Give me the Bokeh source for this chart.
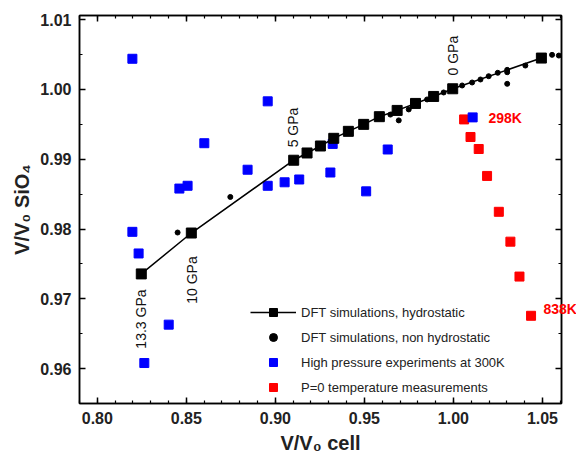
import math
from bokeh.plotting import figure
from bokeh.models import (Legend, LegendItem, LinearAxis, Label, CustomJSTickFormatter,
                          SingleIntervalTicker, PrintfTickFormatter, Range1d)
from bokeh.core.properties import value
from bokeh.embed import file_html
from bokeh.resources import INLINE

# DFT simulations, hydrostatic (squares joined by line)
hyd_x = [0.8247, 0.8528, 0.9103, 0.9178, 0.9253, 0.9328, 0.9410, 0.9496,
         0.9584, 0.9684, 0.9787, 0.9889, 0.9996, 1.0494]
hyd_y = [0.97357, 0.97943, 0.98986, 0.9909, 0.9919, 0.9930, 0.9940, 0.9950,
         0.9961, 0.9970, 0.9980, 0.9990, 1.0001, 1.0045]

# DFT simulations, non hydrostatic (dots)
nh_x = [0.8451, 0.8747, 0.9094, 0.9646, 0.9693, 0.9749, 0.9852, 0.9945,
        1.0049, 1.0105, 1.0152, 1.0198, 1.0249, 1.0302, 1.0302, 1.0302,
        1.0404, 1.0554, 1.0592]
nh_y = [0.9795, 0.9846, 0.9899, 0.9964, 0.99557, 0.99714, 0.99857, 0.99957,
        1.00057, 1.0010, 1.00143, 1.0019, 1.00239, 1.00281, 1.00247, 1.00081,
        1.00343, 1.00496, 1.00486]

# High pressure experiments at 300K (blue)
hp_x = [0.8197, 0.8197, 0.8232, 0.8264, 0.8401, 0.8461, 0.8507, 0.8601,
        0.8844, 0.8957, 0.8957, 0.9052, 0.9134, 0.9309, 0.9322, 0.9510,
        0.9631, 1.0108]
hp_y = [1.0044, 0.9796, 0.9765, 0.9608, 0.9663, 0.9858, 0.9862, 0.9923,
        0.9885, 0.9983, 0.9862, 0.9867, 0.9871, 0.9881, 0.9922, 0.9854,
        0.9914, 0.9960]

# P=0 temperature measurements (red)
t_x = [1.0060, 1.0096, 1.0142, 1.0189, 1.0255, 1.0320, 1.0371, 1.0436]
t_y = [0.99571, 0.99319, 0.99147, 0.98761, 0.98247, 0.97819, 0.97319, 0.96757]

# pressure labels (rotated)
p_lab = ["0 GPa", "5 GPa", "10 GPa", "13.3 GPa"]
p_lab_x = [1.0000, 0.9101, 0.8534, 0.8247]
p_lab_y = [1.0020, 0.99171, 0.96929, 0.96286]

# temperature labels
t_lab = ["298K", "838K"]
t_lab_x = [1.0197, 1.0506]
t_lab_y = [0.99586, 0.96857]

FONT = "Liberation Sans"

p = figure(frame_width=482, frame_height=388, output_backend="svg", toolbar_location=None,
           x_range=Range1d(0.79, 1.0607), y_range=Range1d(0.955, 1.0106),
           min_border_left=79, min_border_right=15, min_border_top=15,
           min_border_bottom=50)
p.xgrid.visible = False
p.ygrid.visible = False
p.outline_line_color = "black"
p.outline_line_width = 1.5

bottom = p.below[0]
left = p.left[0]

xt = SingleIntervalTicker(interval=0.05, num_minor_ticks=5)
yt = SingleIntervalTicker(interval=0.01, num_minor_ticks=2)
bottom.ticker = xt
left.ticker = yt
bottom.formatter = PrintfTickFormatter(format="%.2f")
left.formatter = PrintfTickFormatter(format="%.2f")
bottom.axis_label = "V/V\u2080 cell"
left.axis_label = "V/V\u2080 SiO\u2084"

empty = CustomJSTickFormatter(code="return ''")
top = LinearAxis(ticker=xt, formatter=empty, major_label_standoff=0)
right = LinearAxis(ticker=yt, formatter=empty, major_label_standoff=0)
p.add_layout(top, "above")
p.add_layout(right, "right")

for ax in [bottom, left, top, right]:
    ax.axis_line_color = "black"
    ax.axis_line_width = 1.5
    ax.major_tick_in = 6
    ax.major_tick_out = 0
    ax.minor_tick_in = 3
    ax.minor_tick_out = 0
    ax.major_tick_line_color = "black"
    ax.minor_tick_line_color = "black"
    ax.major_tick_line_width = 1.5
    ax.minor_tick_line_width = 1.2
    ax.major_label_text_font = FONT
    ax.major_label_text_font_style = "bold"
    ax.major_label_text_color = "#222222"
    ax.major_label_text_font_size = "16px"
    ax.axis_label_text_font = FONT
    ax.axis_label_text_font_style = "bold"
    ax.axis_label_text_font_size = "20px"
    ax.axis_label_text_color = "#222222"

for ax in [bottom, left]:
    ax.major_label_standoff = 8
left.axis_label_standoff = 4
bottom.axis_label_standoff = 5

# red and blue experimental data
r_red = p.scatter(t_x, t_y, marker="square", size=9, color="#ff0000")
r_blue = p.scatter(hp_x, hp_y, marker="square", size=9, color="#0000ff")

# DFT
r_line = p.line(hyd_x, hyd_y, line_color="black", line_width=1.5)
r_sq = p.scatter(hyd_x, hyd_y, marker="square", size=10, color="black")
r_dot = p.scatter(nh_x, nh_y, marker="circle", size=5, color="black")

# labels
p.text(x=p_lab_x, y=p_lab_y, text=p_lab, angle=math.pi / 2,
       text_align="left", text_baseline="middle",
       text_font=value(FONT), text_font_size="14px", text_color="#111111")
for i, (lab, lx, ly) in enumerate(zip(t_lab, t_lab_x, t_lab_y)):
    lbl = Label(x=lx, y=ly, text=lab, text_align="left",
                text_baseline="middle", text_font=FONT,
                text_font_size="14px", text_font_style="bold",
                text_color="#ff0000")
    # the second label runs past the right edge of the frame: put it in a
    # side panel so that it is not clipped to the frame
    p.add_layout(lbl, "below" if i == 1 else "center")

legend = Legend(items=[
    LegendItem(label="DFT simulations, hydrostatic", renderers=[r_line, r_sq]),
    LegendItem(label="DFT simulations, non hydrostatic", renderers=[r_dot]),
    LegendItem(label="High pressure experiments at 300K", renderers=[r_blue]),
    LegendItem(label="P=0 temperature measurements", renderers=[r_red]),
], location=(171, 6))
legend.background_fill_alpha = 0
legend.border_line_alpha = 0
legend.padding = 0
legend.margin = 0
legend.spacing = 5
legend.glyph_width = 46
legend.glyph_height = 20
legend.label_height = 20
legend.label_standoff = 5
legend.label_text_font = FONT
legend.label_text_font_size = "13px"
legend.label_text_color = "#222222"
p.add_layout(legend, "center")

open("out.html", "w").write(file_html(p, INLINE))
